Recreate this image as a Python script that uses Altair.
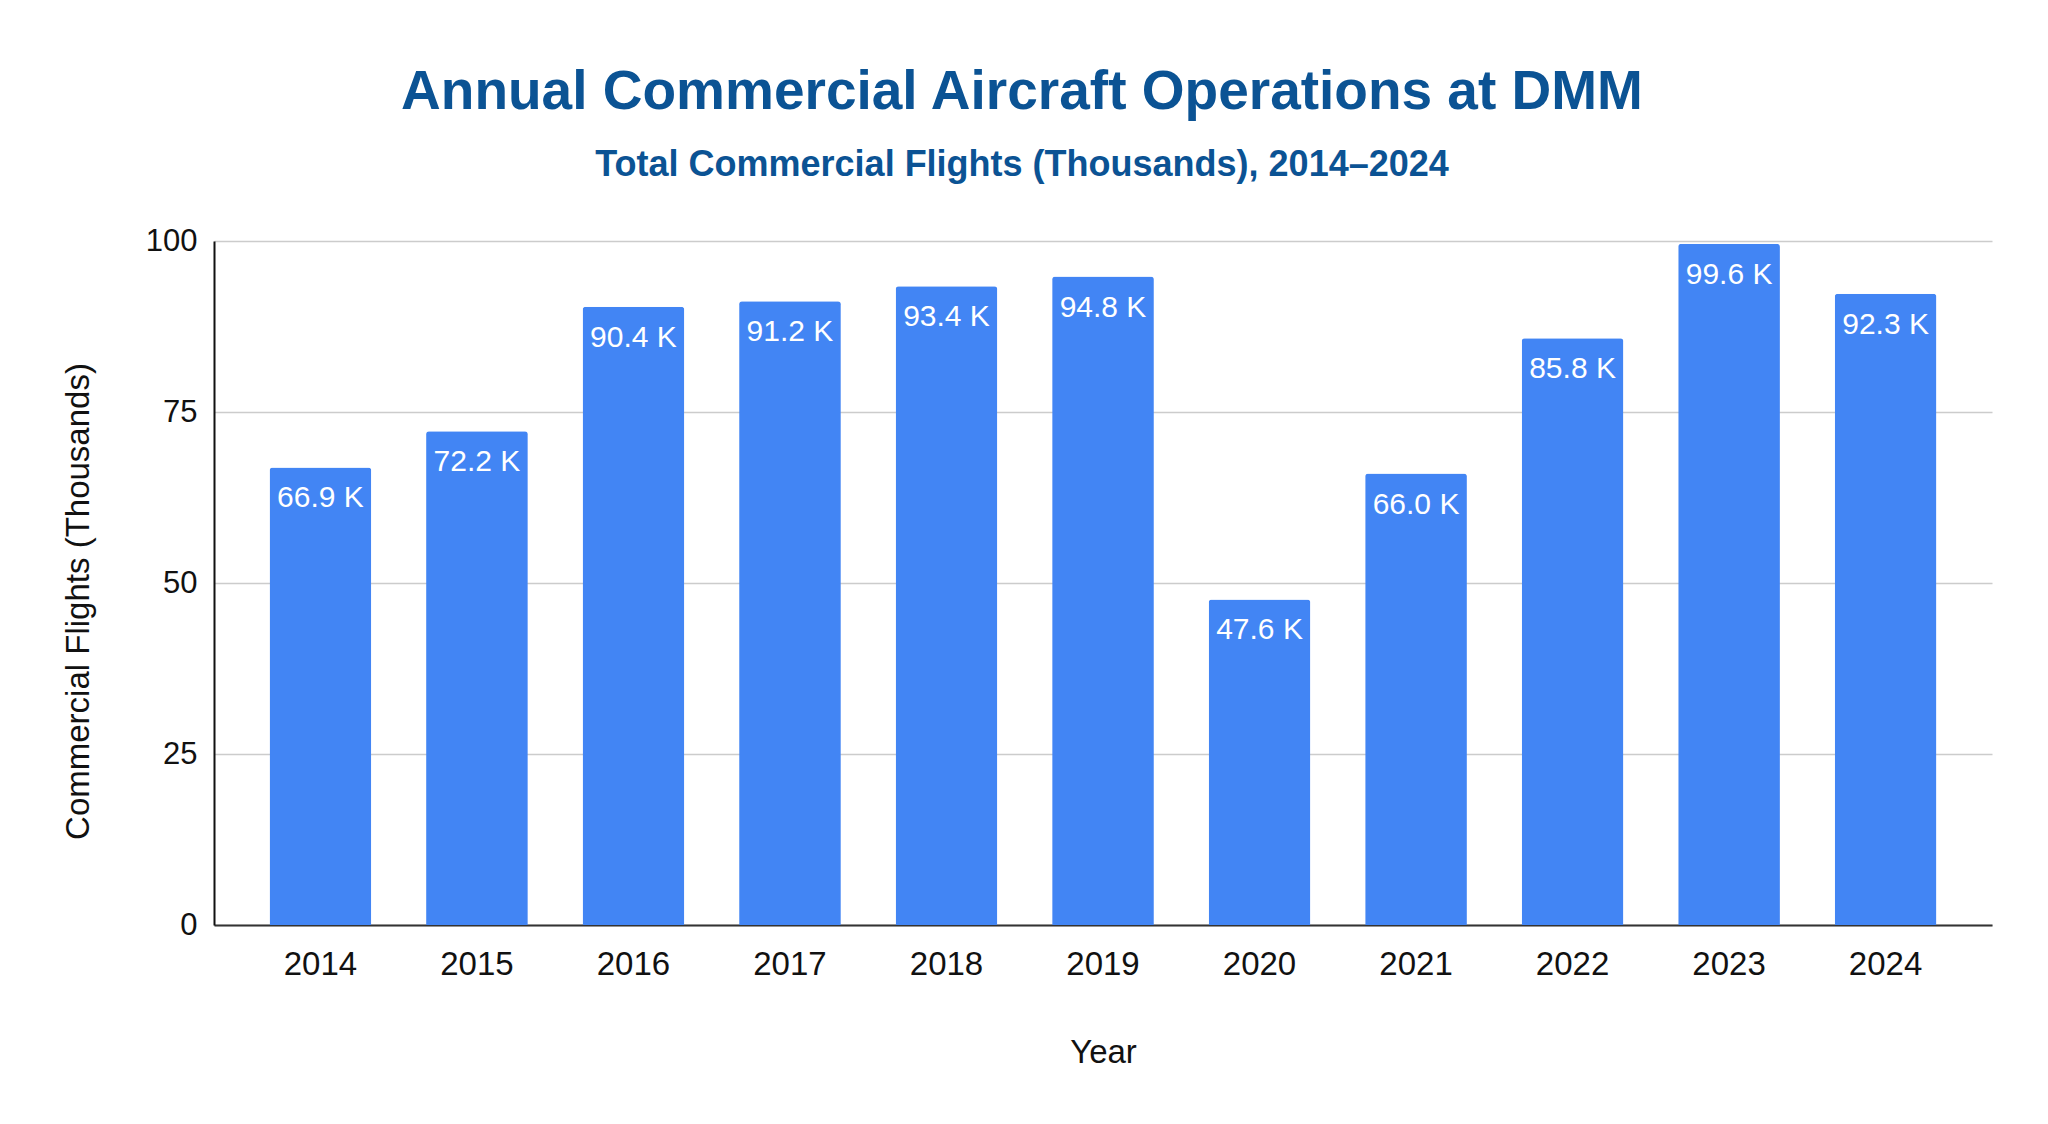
import altair as alt
import pandas as pd

years = ["2014", "2015", "2016", "2017", "2018", "2019", "2020", "2021", "2022", "2023", "2024"]
flights = [66.9, 72.2, 90.4, 91.2, 93.4, 94.8, 47.6, 66.0, 85.8, 99.6, 92.3]

df = pd.DataFrame({"Year": years, "Flights": flights})

FONT = "Liberation Sans"
BLUE = "#4285F4"
TITLE_BLUE = "#0B5394"

x = alt.X(
    "Year:N",
    sort=years,
    scale=alt.Scale(paddingInner=0.35, paddingOuter=0.355),
    axis=alt.Axis(
        title="Year",
        labelAngle=0,
        labelFontSize=33,
        labelColor="#111111",
        labelFont=FONT,
        labelPadding=23,
        ticks=False,
        tickSize=0,
        domain=True,
        domainColor="#333333",
        domainWidth=2,
        grid=False,
        titleFont=FONT,
        titleFontSize=33,
        titleFontWeight="normal",
        titleColor="#111111",
        titlePadding=55,
    ),
)

y = alt.Y(
    "Flights:Q",
    scale=alt.Scale(domain=[0, 100], nice=False),
    axis=alt.Axis(
        title="Commercial Flights (Thousands)",
        values=[0, 25, 50, 75, 100],
        labelFontSize=31,
        labelColor="#111111",
        labelFont=FONT,
        labelPadding=17,
        ticks=False,
        tickSize=0,
        domain=True,
        domainColor="#111111",
        domainWidth=2,
        grid=True,
        gridColor="#cccccc",
        gridWidth=1.5,
        titleFont=FONT,
        titleFontSize=33,
        titleFontWeight="normal",
        titleColor="#111111",
        titlePadding=50,
        titleY=360,
    ),
)

bars = alt.Chart(df).mark_bar(
    color=BLUE, cornerRadiusTopLeft=3, cornerRadiusTopRight=3
).encode(x=x, y=y)

labels = alt.Chart(df).transform_calculate(
    label="format(datum.Flights, '.1f') + ' K'"
).mark_text(
    color="white", font=FONT, fontSize=30, baseline="middle", align="center", dy=31
).encode(
    x=alt.X("Year:N", sort=years),
    y=alt.Y("Flights:Q"),
    text="label:N",
)

chart = (
    alt.layer(bars, labels)
    .properties(
        width=1778,
        height=684,
        padding={"left": 206, "top": 233, "right": 30, "bottom": 150},
        autosize=alt.AutoSizeParams(type="none"),
        title=alt.TitleParams(
            text="Annual Commercial Aircraft Operations at DMM",
            subtitle="Total Commercial Flights (Thousands), 2014\u20132024",
            font=FONT,
            fontSize=55,
            fontWeight="bold",
            color=TITLE_BLUE,
            subtitleFont=FONT,
            subtitleFontSize=36,
            subtitleFontWeight="bold",
            subtitleColor=TITLE_BLUE,
            subtitlePadding=27,
            anchor="middle",
            dx=-81,
            offset=41,
        ),
    )
    .configure(background="white")
    .configure_view(stroke=None)
)

chart.save("out.html", embed_options={"renderer": "svg", "actions": False})
